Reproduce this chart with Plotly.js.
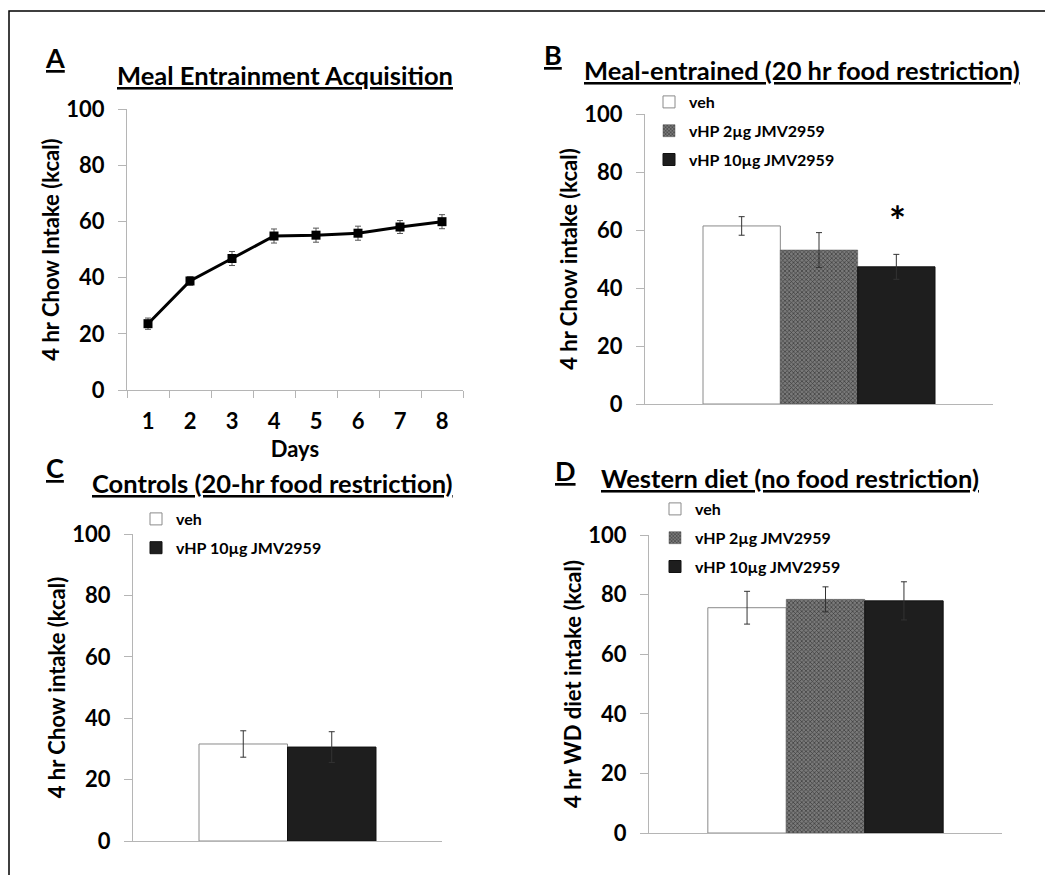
<!DOCTYPE html>
<html>
<head>
<meta charset="utf-8">
<script src="https://cdn.plot.ly/plotly-3.0.1.min.js"></script>
<style>html,body{margin:0;padding:0;background:#fff;}#chart{width:1045px;height:875px;}</style>
</head>
<body>
<div id="chart"></div>
<script>
// ---- Data ----
const days = [1, 2, 3, 4, 5, 6, 7, 8];
const acquisitionIntake = [23.6, 38.8, 46.8, 54.8, 55.1, 55.8, 58.0, 59.9];
const acquisitionErr = [2.0, 1.5, 2.5, 2.5, 2.5, 2.5, 2.3, 2.5];

const treatments3 = ['veh', 'vHP 2µg JMV2959', 'vHP 10µg JMV2959'];
const mealEntrainedIntake = [61.4, 53.1, 47.3];
const mealEntrainedErr = [3.2, 6.0, 4.3];

const treatments2 = ['veh', 'vHP 10µg JMV2959'];
const controlsIntake = [31.6, 30.6];
const controlsErr = [4.3, 5.0];

const westernIntake = [75.6, 78.4, 77.9];
const westernErr = [5.5, 4.2, 6.4];

const yTicks = [0, 20, 40, 60, 80, 100];

// ---- Styles ----
const FONT = 'Lato, "Open Sans", sans-serif';
const barStyles = {
  'veh': {color: '#ffffff', line: {color: '#8a8a8a', width: 1}},
  'vHP 2µg JMV2959': {color: '#6c6c6c', line: {color: '#555', width: 0.5},
    pattern: {shape: 'x', fgcolor: '#3a3a3a', bgcolor: '#7a7a7a', size: 3, solidity: 0.4}},
  'vHP 10µg JMV2959': {color: '#1e1e1e', line: {color: '#111', width: 1}}
};

function barTrace(name, value, err, xa, ya, legendId, cat) {
  return {
    type: 'bar', x: [cat], y: [value], name: name,
    xaxis: xa, yaxis: ya, legend: legendId, legendgroup: legendId + name,
    marker: barStyles[name],
    error_y: {type: 'data', array: [err], visible: true, color: '#333', thickness: 1, width: 3},
    hoverinfo: 'y'
  };
}

const traces = [];
traces.push({
  type: 'scatter', mode: 'lines+markers', x: days, y: acquisitionIntake,
  xaxis: 'x', yaxis: 'y', showlegend: false,
  line: {color: '#000', width: 3},
  marker: {symbol: 'square', size: 9, color: '#000'},
  error_y: {type: 'data', array: acquisitionErr, visible: true, color: '#555', thickness: 1, width: 3}
});
treatments3.forEach((t, i) => traces.push(barTrace(t, mealEntrainedIntake[i], mealEntrainedErr[i], 'x2', 'y2', 'legend', 'B')));
treatments2.forEach((t, i) => traces.push(barTrace(t, controlsIntake[i], controlsErr[i], 'x3', 'y3', 'legend2', 'C')));
treatments3.forEach((t, i) => traces.push(barTrace(t, westernIntake[i], westernErr[i], 'x4', 'y4', 'legend3', 'D')));

const W = 1045, H = 875;
const px = v => v / W, py = v => 1 - v / H;
const boldFont = size => ({family: FONT, size: size, color: '#000', weight: 700});

function yAxis(domainTop, domainBottom, anchor, title, standoff) {
  return {
    domain: [py(domainBottom), py(domainTop)], anchor: anchor,
    range: [0, 100], tickvals: yTicks, showgrid: false, zeroline: false,
    showline: true, linecolor: '#b5b5b5', linewidth: 1,
    ticks: 'outside', ticklen: 8, tickcolor: '#b5b5b5', ticklabelstandoff: 9,
    tickfont: boldFont(22),
    title: {text: title, standoff: standoff, font: boldFont(22)}
  };
}
function xBarAxis(left, right, anchor, range) {
  return {
    domain: [px(left), px(right)], anchor: anchor, type: 'category', range: range,
    showticklabels: false, showgrid: false, zeroline: false,
    showline: true, linecolor: '#b5b5b5', linewidth: 1, ticks: ''
  };
}

function legendAt(x, y) {
  return {x: px(x), y: py(y), xanchor: 'left', yanchor: 'top', bgcolor: 'rgba(0,0,0,0)',
    font: boldFont(16), traceorder: 'grouped', tracegroupgap: 5, itemwidth: 30};
}

function underlined(text, x, y, size) {
  return {text: '<u>' + text + '</u>', xref: 'paper', yref: 'paper', x: px(x), y: py(y),
    xanchor: 'center', yanchor: 'middle', showarrow: false, font: boldFont(size)};
}

const layout = {
  width: W, height: H, margin: {l: 0, r: 0, t: 0, b: 0},
  paper_bgcolor: '#fff', plot_bgcolor: 'rgba(0,0,0,0)',
  font: {family: FONT, color: '#000'},
  barmode: 'group', bargap: 1/3, bargroupgap: 0,
  xaxis: {
    domain: [px(127), px(463)], anchor: 'y', range: [0.5, 8.5],
    tickvals: days, ticks: '', showgrid: false, zeroline: false,
    showline: true, linecolor: '#b5b5b5', linewidth: 1, ticklabelstandoff: 12,
    minor: {tick0: 0.5, dtick: 1, ticks: 'outside', ticklen: 7, tickcolor: '#b5b5b5', showgrid: false},
    tickfont: boldFont(22),
    title: {text: 'Days', standoff: 8, font: boldFont(22)}
  },
  yaxis: yAxis(109, 390, 'x', '4 hr Chow Intake (kcal)', 0),
  xaxis2: xBarAxis(645, 993, 'y2', [-0.5, 0.5]),
  yaxis2: yAxis(114, 404, 'x2', '4 hr Chow intake (kcal)', 0),
  xaxis3: xBarAxis(133, 442, 'y3', [-0.582, 0.582]),
  yaxis3: yAxis(534, 841, 'x3', '4 hr Chow intake (kcal)', 0),
  xaxis4: xBarAxis(649, 1002, 'y4', [-0.5, 0.5]),
  yaxis4: yAxis(535, 833, 'x4', '4 hr WD diet intake (kcal)', 0),
  legend: legendAt(649, 85),
  legend2: legendAt(136, 502),
  legend3: legendAt(655, 492),
  annotations: [
    underlined('A', 55, 58, 27),
    underlined('Meal Entrainment Acquisition', 285, 75, 25.5),
    underlined('B', 553, 55, 27),
    underlined('Meal-entrained (20 hr food restriction)', 802, 70, 25.5),
    underlined('C', 55, 468, 27),
    underlined('Controls (20-hr food restriction)', 272, 483, 25.5),
    underlined('D', 565, 470, 27),
    underlined('Western diet (no food restriction)', 790, 478, 25.5),
    {text: '*', xref: 'paper', yref: 'y2', x: px(897), y: 63, showarrow: false,
      xanchor: 'center', yanchor: 'middle', font: boldFont(40)}
  ],
  shapes: [
    {type: 'rect', xref: 'paper', yref: 'paper', x0: px(9), x1: 1.01, y0: -0.01, y1: py(11),
      line: {color: '#000', width: 1.5}, fillcolor: 'rgba(0,0,0,0)', layer: 'below'}
  ]
};

Plotly.newPlot('chart', traces, layout, {staticPlot: true, displayModeBar: false});
</script>
</body>
</html>
